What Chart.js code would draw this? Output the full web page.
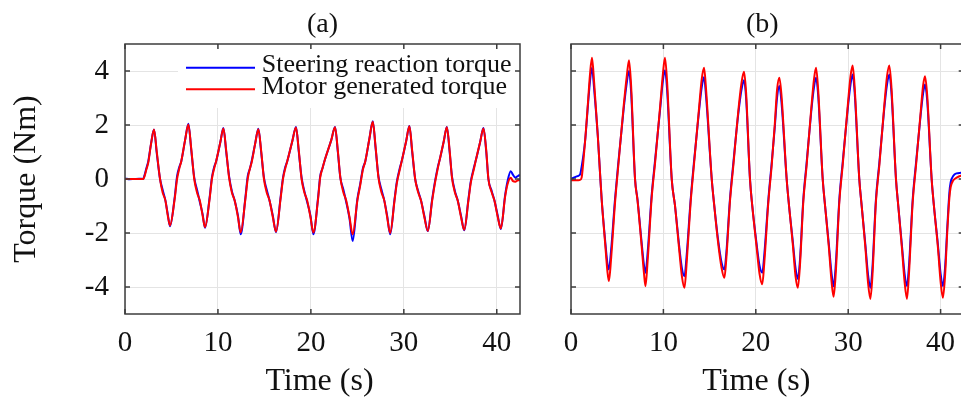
<!DOCTYPE html>
<html>
<head>
<meta charset="utf-8">
<script src="https://cdn.jsdelivr.net/npm/chart.js@4.4.1/dist/chart.umd.min.js"></script>
<style>
    html, body { margin: 0; padding: 0; background: #fff; overflow: hidden; }
    body { width: 961px; height: 403px; position: relative; }
    #panelA { position: absolute; left: 0; top: 0; }
    #panelB { position: absolute; left: 540px; top: 0; }
</style>
</head>
<body>
<canvas id="panelA" width="540" height="403"></canvas>
<canvas id="panelB" width="440" height="403"></canvas>
<script>
const panelTitles = ['(a)', '(b)'];
const seriesLabels = ['Steering reaction torque', 'Motor generated torque'];
const xTitle = 'Time (s)';
const yTitle = 'Torque (Nm)';
const xTicks = [0, 10, 20, 30, 40];
const yTicks = [-4, -2, 0, 2, 4];

// panel (a) - time in s, torque in Nm
const timeA = [
    0, 0.5, 1.0, 1.5, 1.97,
    2.05, 2.3, 2.5, 2.8, 3.12,
    3.42, 3.77, 4.05, 4.35, 4.6, 4.84,
    5.34, 5.6, 5.85, 6.05, 6.47, 6.82,
    7.12, 7.45, 7.75, 8.05, 8.35, 8.61,
    9.1, 9.35, 9.6, 9.8, 10.25, 10.59,
    10.89, 11.2, 11.5, 11.8, 12.15, 12.45,
    12.95, 13.2, 13.45, 13.65, 14.0, 14.35,
    14.65, 14.95, 15.25, 15.55, 15.9, 16.25,
    16.75, 17.0, 17.25, 17.45, 18.0, 18.4,
    18.7, 19.0, 19.3, 19.6, 19.95, 20.27,
    20.77, 21.0, 21.25, 21.45, 22.2, 22.6,
    22.9, 23.17, 23.5, 23.8, 24.15, 24.5,
    25.0, 25.3, 25.6, 25.85, 26.3, 26.66,
    26.96, 27.27, 27.6, 27.9, 28.2, 28.53,
    29.0, 29.25, 29.6, 29.8, 30.25, 30.6,
    30.9, 31.22, 31.55, 31.85, 32.2, 32.58,
    33.05, 33.35, 33.66, 33.85, 34.3, 34.63,
    34.93, 35.18, 35.5, 35.8, 36.15, 36.5,
    36.95, 37.2, 37.56, 37.75, 38.2, 38.57,
    38.87, 39.1, 39.46, 39.75, 40.1, 40.44,
    40.9, 41.15, 41.5, 41.75, 42.0, 42.3, 42.5
];
const steerA = [
    0.02, -0.01, 0.0, 0.01, 0.0,
    0.08, 0.4, 0.65, 1.3, 1.83,
    0.95, 0.0, -0.4, -0.8, -1.3, -1.75,
    -0.7, 0.1, 0.45, 0.65, 1.45, 2.05,
    1.1, 0.05, -0.4, -0.85, -1.3, -1.81,
    -0.7, 0.05, 0.45, 0.65, 1.35, 1.89,
    1.0, 0.1, -0.45, -0.8, -1.35, -2.05,
    -0.7, 0.1, 0.4, 0.7, 1.3, 1.86,
    1.0, 0.05, -0.4, -0.8, -1.35, -1.97,
    -0.65, 0.05, 0.45, 0.65, 1.4, 1.93,
    1.0, 0.05, -0.45, -0.85, -1.35, -2.05,
    -0.7, 0.1, 0.4, 0.65, 1.45, 1.93,
    1.0, 0.05, -0.4, -0.85, -1.45, -2.3,
    -0.75, -0.2, 0.4, 0.65, 1.5, 2.14,
    1.15, 0.1, -0.4, -0.8, -1.35, -2.05,
    -0.75, -0.1, 0.45, 0.7, 1.4, 1.96,
    1.0, 0.0, -0.45, -0.8, -1.35, -1.93,
    -0.75, -0.1, 0.45, 0.7, 1.4, 1.93,
    1.0, 0.1, -0.45, -0.8, -1.35, -1.9,
    -0.75, -0.1, 0.45, 0.7, 1.35, 1.89,
    1.0, 0.0, -0.45, -0.8, -1.35, -1.85,
    -0.6, -0.1, 0.29, 0.15, 0.05, 0.12, 0.15
];
const motorA = [
    0.0, 0.0, 0.0, 0.0, 0.0,
    0.05, 0.35, 0.6, 1.3, 1.83,
    1.0, 0.0, -0.5, -0.8, -1.35, -1.72,
    -0.75, 0.0, 0.4, 0.65, 1.45, 2.02,
    1.15, 0.0, -0.5, -0.8, -1.35, -1.78,
    -0.75, 0.0, 0.4, 0.65, 1.35, 1.87,
    1.05, 0.05, -0.5, -0.8, -1.4, -1.98,
    -0.75, 0.0, 0.4, 0.65, 1.3, 1.84,
    1.05, 0.0, -0.5, -0.8, -1.4, -1.95,
    -0.7, 0.0, 0.4, 0.65, 1.4, 1.91,
    1.05, 0.0, -0.5, -0.8, -1.4, -1.98,
    -0.75, 0.05, 0.4, 0.65, 1.45, 1.92,
    1.05, 0.05, -0.5, -0.8, -1.4, -2.05,
    -0.8, -0.25, 0.35, 0.65, 1.5, 2.12,
    1.2, 0.05, -0.5, -0.8, -1.4, -2.0,
    -0.8, -0.15, 0.4, 0.7, 1.4, 1.95,
    1.05, 0.0, -0.5, -0.8, -1.4, -1.92,
    -0.8, -0.15, 0.4, 0.7, 1.4, 1.92,
    1.05, 0.05, -0.5, -0.8, -1.4, -1.88,
    -0.8, -0.15, 0.4, 0.7, 1.35, 1.87,
    1.05, 0.0, -0.5, -0.8, -1.4, -1.83,
    -0.65, -0.2, 0.05, -0.08, -0.1, -0.05, -0.05
];

// panel (b)
const timeB = [
    0, 0.5, 0.8, 1.0, 1.15, 1.35, 1.55, 1.85, 2.05, 2.27, 2.5,
    2.9, 3.14, 3.32, 3.7, 3.95, 4.1, 4.35,
    4.76, 5.12, 5.7, 6.05, 6.28, 6.5,
    6.93, 7.2, 7.6, 7.9, 8.06, 8.3,
    8.73, 9.1, 9.65, 9.95, 10.17, 10.4,
    10.9, 11.26, 11.65, 12.0, 12.28, 12.5,
    12.95, 13.3, 13.85, 14.15, 14.4, 14.62,
    15.23, 15.48, 15.9, 16.3, 16.6, 16.82,
    17.2, 17.57, 18.1, 18.45, 18.72, 18.95,
    19.37, 19.62, 20.05, 20.4, 20.7, 20.92,
    21.36, 21.72, 22.05, 22.3, 22.55, 22.78,
    23.34, 23.6, 24.0, 24.3, 24.55, 24.78,
    25.14, 25.5, 26.0, 26.3, 26.52, 26.75,
    27.24, 27.5, 27.9, 28.2, 28.42, 28.65,
    29.04, 29.4, 29.95, 30.25, 30.48, 30.7,
    31.2, 31.46, 31.85, 32.15, 32.4, 32.62,
    33.0, 33.37, 33.9, 34.2, 34.45, 34.68,
    35.17, 35.42, 35.8, 36.1, 36.36, 36.58,
    36.98, 37.34, 37.85, 38.1, 38.31, 38.55,
    39.03, 39.28, 39.7, 40.0, 40.25, 40.48,
    40.73, 40.95, 41.09, 41.38, 41.74, 42.2, 42.5
];
const steerB = [
    0.0, 0.08, 0.12, 0.18, 0.45, 0.9, 1.5, 2.8, 3.6, 4.12, 3.35,
    1.6, 0.23, -0.76, -2.3, -3.15, -3.35, -2.6,
    -0.76, 0.6, 2.6, 3.6, 4.0, 3.25,
    0.0, -0.76, -2.2, -3.2, -3.47, -2.7,
    -0.6, 0.7, 2.6, 3.65, 4.03, 3.3,
    0.0, -1.0, -2.3, -3.3, -3.6, -2.9,
    -0.76, 0.6, 2.5, 3.4, 3.78, 3.05,
    0.0, -0.9, -2.2, -3.1, -3.35, -2.7,
    -0.76, 0.6, 2.4, 3.3, 3.66, 3.0,
    0.0, -1.0, -2.3, -3.2, -3.47, -2.8,
    -0.76, 0.6, 1.9, 3.0, 3.44, 2.85,
    0.0, -1.0, -2.3, -3.3, -3.7, -3.0,
    -0.76, 0.6, 2.5, 3.4, 3.75, 3.1,
    0.0, -1.0, -2.4, -3.5, -3.97, -3.2,
    -0.76, 0.6, 2.6, 3.5, 3.87, 3.2,
    0.0, -1.0, -2.4, -3.55, -4.03, -3.3,
    -0.76, 0.6, 2.6, 3.5, 3.87, 3.2,
    0.0, -1.0, -2.4, -3.5, -3.97, -3.2,
    -0.76, 0.6, 2.4, 3.15, 3.5, 2.9,
    0.0, -1.0, -2.4, -3.5, -3.97, -3.3,
    -1.75, -0.5, -0.12, 0.12, 0.21, 0.23, 0.25
];
const motorB = [
    -0.05, -0.05, -0.05, -0.03, 0.05, 0.7, 1.5, 2.9, 3.85, 4.49, 3.6,
    1.6, 0.23, -0.76, -2.4, -3.45, -3.78, -2.9,
    -0.9, 0.5, 2.7, 3.85, 4.4, 3.5,
    0.0, -0.8, -2.3, -3.5, -3.97, -3.0,
    -0.7, 0.6, 2.7, 3.9, 4.49, 3.6,
    0.0, -1.0, -2.4, -3.6, -4.03, -3.2,
    -0.85, 0.5, 2.6, 3.7, 4.12, 3.3,
    0.0, -0.9, -2.3, -3.3, -3.66, -2.9,
    -0.85, 0.5, 2.5, 3.55, 3.97, 3.2,
    0.0, -1.0, -2.4, -3.5, -3.9, -3.1,
    -0.85, 0.5, 2.0, 3.3, 3.75, 3.1,
    0.0, -1.0, -2.4, -3.6, -4.03, -3.2,
    -0.85, 0.5, 2.6, 3.7, 4.12, 3.3,
    0.0, -1.0, -2.5, -3.8, -4.36, -3.5,
    -0.85, 0.5, 2.7, 3.8, 4.2, 3.4,
    0.0, -1.0, -2.5, -3.85, -4.44, -3.6,
    -0.85, 0.5, 2.7, 3.8, 4.2, 3.4,
    0.0, -1.0, -2.5, -3.8, -4.44, -3.5,
    -0.85, 0.5, 2.5, 3.45, 3.81, 3.1,
    0.0, -1.0, -2.5, -3.8, -4.4, -3.6,
    -1.9, -0.7, -0.3, -0.05, 0.05, 0.12, 0.13
];

Chart.defaults.font.family = "'Liberation Serif', 'Times New Roman', serif";
Chart.defaults.color = '#111';

const frameColor = '#3c3c3c';

// box around the axes with inward tick marks, like matlab
const framePlugin = {
    id: 'frame',
    afterDraw(chart) {
        const ctx = chart.ctx;
        const area = chart.chartArea;
        const x = chart.scales.x;
        const y = chart.scales.y;
        ctx.save();
        ctx.strokeStyle = frameColor;
        ctx.lineWidth = 1.5;
        ctx.beginPath();
        x.ticks.forEach(function (t) {
            const px = x.getPixelForValue(t.value);
            ctx.moveTo(px, area.bottom);
            ctx.lineTo(px, area.bottom - 5);
            ctx.moveTo(px, area.top);
            ctx.lineTo(px, area.top + 5);
        });
        y.ticks.forEach(function (t) {
            const py = y.getPixelForValue(t.value);
            ctx.moveTo(area.left, py);
            ctx.lineTo(area.left + 5, py);
            ctx.moveTo(area.right, py);
            ctx.lineTo(area.right - 5, py);
        });
        ctx.stroke();
        ctx.strokeRect(area.left, area.top, area.right - area.left, area.bottom - area.top);
        ctx.restore();
    }
};

// panel letter above the axes and the x label below
const panelTextPlugin = {
    id: 'panelText',
    afterDraw(chart, args, opts) {
        const ctx = chart.ctx;
        const area = chart.chartArea;
        const mid = (area.left + area.right) / 2;
        ctx.save();
        ctx.fillStyle = '#111';
        ctx.textAlign = 'center';
        ctx.textBaseline = 'middle';
        ctx.font = "28px 'Liberation Serif'";
        ctx.fillText(opts.title, mid + opts.titleShift, 25);
        ctx.font = "32px 'Liberation Serif'";
        ctx.fillText(xTitle, mid + opts.labelShift, 382);
        ctx.restore();
    }
};

// legend sits inside the axes, top right, on a white patch
const insideLegend = {
    id: 'insideLegend',
    afterDraw(chart) {
        const ctx = chart.ctx;
        const area = chart.chartArea;
        ctx.save();
        ctx.fillStyle = '#fff';
        ctx.fillRect(178, area.top + 4, area.right - 180, 60);
        ctx.font = "26px 'Liberation Serif'";
        ctx.textBaseline = 'alphabetic';
        chart.data.datasets.forEach(function (ds, i) {
            const ly = 67.7 + i * 21.6;
            ctx.strokeStyle = ds.borderColor;
            ctx.lineWidth = 2;
            ctx.beginPath();
            ctx.moveTo(186, ly);
            ctx.lineTo(255, ly);
            ctx.stroke();
            ctx.fillStyle = '#111';
            ctx.fillText(ds.label, 261.7, ly + 4.5);
        });
        ctx.restore();
    }
};

function points(time, values) {
    return time.map(function (t, i) {
        return { x: t, y: values[i] };
    });
}

function makePanel(id, title, time, steer, motor, yWidth, padRight, withYLabels, shifts, extra) {
    return new Chart(document.getElementById(id), {
        type: 'line',
        data: {
            datasets: [{
                label: seriesLabels[0],
                data: points(time, steer),
                borderColor: '#0000ff',
                backgroundColor: '#0000ff',
                borderWidth: 2,
                pointRadius: 0,
                cubicInterpolationMode: 'monotone',
                order: 1
            }, {
                label: seriesLabels[1],
                data: points(time, motor),
                borderColor: '#ff0000',
                backgroundColor: '#ff0000',
                borderWidth: 2,
                pointRadius: 0,
                cubicInterpolationMode: 'monotone',
                order: 0
            }]
        },
        options: {
            responsive: false,
            animation: false,
            events: [],
            layout: {
                padding: { left: 0, right: padRight, top: 44, bottom: 0 }
            },
            scales: {
                x: {
                    type: 'linear',
                    min: 0,
                    max: 42.5,
                    afterBuildTicks: function (scale) {
                        scale.ticks = xTicks.map(function (v) { return { value: v }; });
                    },
                    afterFit: function (scale) { scale.height = 89; },
                    grid: { color: '#e4e4e4', lineWidth: 1, drawTicks: false },
                    border: { display: false },
                    ticks: { font: { size: 29 }, padding: 12, maxRotation: 0 }
                },
                y: {
                    min: -5,
                    max: 5,
                    afterBuildTicks: function (scale) {
                        scale.ticks = yTicks.map(function (v) { return { value: v }; });
                    },
                    afterFit: function (scale) { scale.width = yWidth; },
                    grid: { color: '#e4e4e4', lineWidth: 1, drawTicks: false },
                    border: { display: false },
                    ticks: { display: withYLabels, font: { size: 29 }, padding: 16 },
                    title: {
                        display: withYLabels,
                        text: yTitle,
                        font: { size: 32 },
                        padding: { top: 7, bottom: 0 }
                    }
                }
            },
            plugins: {
                legend: { display: false },
                tooltip: { enabled: false },
                panelText: { title: title, titleShift: shifts[0], labelShift: shifts[1] }
            }
        },
        plugins: extra.concat([framePlugin, panelTextPlugin])
    });
}

const chartA = makePanel('panelA', panelTitles[0], timeA, steerA, motorA, 125, 20, true, [0, -3], [insideLegend]);
const chartB = makePanel('panelB', panelTitles[1], timeB, steerB, motorB, 31, 16.3, false, [-5, -11], []);
</script>
</body>
</html>
